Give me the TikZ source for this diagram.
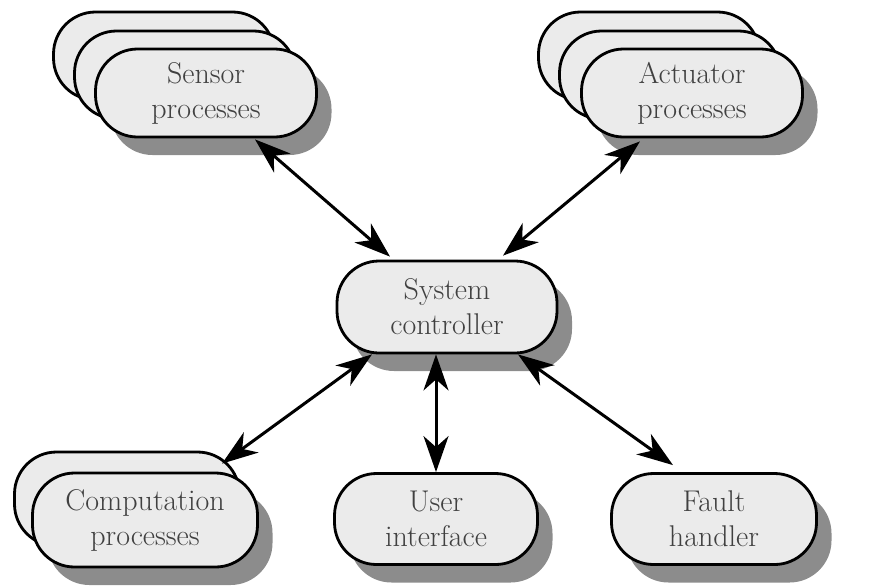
\documentclass[tikz,border=0pt]{standalone}
\usepackage{fontspec}
\usetikzlibrary{shadows,arrows.meta,calc}
\newcommand\capfont{\rmfamily\fontsize{30}{35}\selectfont}
\tikzset{
  capsule/.style={draw=black, line width=2.8pt, fill=black!8, rounded corners=42pt,
    align=center, font=\capfont, text=black!75, inner sep=0pt},
  shade/.style={drop shadow={shadow xshift=15pt, shadow yshift=-18pt, fill=black!45, opacity=1}},
  link/.style={line width=3pt,
    {Stealth[length=36pt,width=25pt,inset=11pt]}-{Stealth[length=36pt,width=25pt,inset=11pt]}}
}
\begin{document}
\begin{tikzpicture}[x=1pt,y=-1pt]
\useasboundingbox (0,0) rectangle (869,587);

% sensor stack
\node[capsule, minimum width=221pt, minimum height=88pt] (sensorC) at (164,56) {};
\node[capsule, minimum width=221pt, minimum height=88pt] (sensorB) at (185,75) {};
\node[capsule, shade, minimum width=221pt, minimum height=88pt] (sensor) at (206,93) {Sensor\\processes};

% actuator stack
\node[capsule, minimum width=221pt, minimum height=88pt] (actC) at (649,56) {};
\node[capsule, minimum width=221pt, minimum height=88pt] (actB) at (670,75) {};
\node[capsule, shade, minimum width=221pt, minimum height=88pt] (act) at (692,93) {Actuator\\processes};

% central controller
\node[capsule, shade, minimum width=220pt, minimum height=92pt] (system) at (447,307) {System\\controller};

% computation stack
\node[capsule, minimum width=225pt, minimum height=94pt] (compB) at (127,499) {};
\node[capsule, shade, minimum width=225pt, minimum height=94pt] (comp) at (145,520) {Computation\\processes};

% user interface and fault handler
\node[capsule, shade, minimum width=203pt, minimum height=91pt] (user) at (436,519) {User\\interface};
\node[capsule, shade, minimum width=205pt, minimum height=91pt] (fault) at (714,519) {Fault\\handler};

% connectors
\draw[link] ($(sensor.south)+(49,1)$) -- ($(system.north)+(-57,-3)$);
\draw[link] ($(act.south)+(-52,3)$) -- ($(system.north)+(56,-4)$);
\draw[link] ($(comp.north)+(77,-8)$) -- ($(system.south)+(-75,0)$);
\draw[link] ($(system.south)+(-11,0)$) -- (user.north);
\draw[link] ($(system.south)+(71,0)$) -- ($(fault.north)+(-41,-7)$);
\end{tikzpicture}
\end{document}
